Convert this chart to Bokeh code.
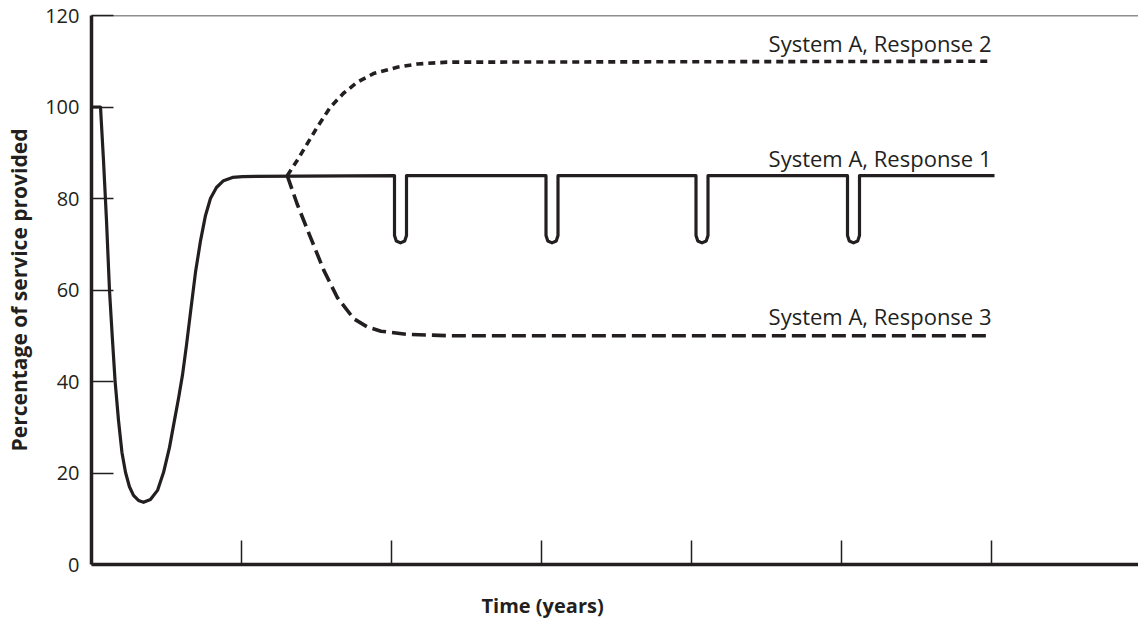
from bokeh.plotting import figure
from bokeh.models import Range1d, FixedTicker, Span, Title
from bokeh.core.properties import value
from bokeh.embed import file_html
from bokeh.resources import INLINE

INK = "#231f20"
FONT = "Open Sans"

# ---- data ----
# initial disruption and recovery of Response 1 (time in years, % of service)
trough_t = [0.0, 0.06, 0.08, 0.10, 0.12, 0.14, 0.157, 0.18, 0.203, 0.227,
            0.253, 0.28, 0.313, 0.347, 0.393, 0.44, 0.48, 0.52, 0.553, 0.58,
            0.607, 0.633, 0.66, 0.693, 0.727, 0.76, 0.793, 0.833, 0.88, 0.94,
            1.007]
trough_v = [100, 100, 88.3, 75.2, 59.9, 49.0, 40.2, 31.5, 24.5, 20.1,
            17.0, 15.1, 14.0, 13.6, 14.2, 16.2, 20.1, 25.6, 31.5, 36.3,
            41.5, 47.9, 55.1, 63.8, 70.8, 76.3, 80.0, 82.4, 83.9, 84.6,
            84.8]
r1_level = 85
dip_t = [2.06, 3.07, 4.07, 5.08]       # short service drops of Response 1
dip_low = 70.3
dip_half = 0.04
end_t = 6.02

r2_t = [1.305, 1.371, 1.505, 1.593, 1.68, 1.771, 1.88, 2.038, 2.171, 2.371, 6.0]
r2_v = [85, 88.3, 95.6, 100.0, 103.0, 105.4, 107.3, 108.7, 109.4, 109.8, 110]

r3_t = [1.305, 1.371, 1.46, 1.549, 1.638, 1.749, 1.84, 1.93, 2.1, 2.4, 6.0]
r3_v = [85, 78.8, 71.5, 64.3, 58.4, 53.7, 51.9, 51.0, 50.3, 50.0, 50]

label_text = ["System A, Response 1", "System A, Response 2", "System A, Response 3"]
label_t = [6.0, 6.0, 6.0]
label_v = [88.9, 113.9, 54.3]

x_ticks = [1, 2, 3, 4, 5, 6]
y_ticks = [0, 20, 40, 60, 80, 100, 120]

# ---- build Response 1 polyline ----
r1_t = list(trough_t)
r1_v = list(trough_v)
for c in dip_t:
    r1_t += [c - dip_half, c - dip_half, c - 0.7 * dip_half, c,
             c + 0.7 * dip_half, c + dip_half, c + dip_half]
    r1_v += [r1_level, dip_low + 1.6, dip_low + 0.4, dip_low,
             dip_low + 0.4, dip_low + 1.6, r1_level]
r1_t.append(end_t)
r1_v.append(r1_level)

p = figure(width=1138, height=623, x_range=Range1d(0, 6.98), y_range=Range1d(0, 120),
           output_backend="svg", toolbar_location=None,
           min_border_left=91, min_border_right=0, min_border_top=15, min_border_bottom=59)
p.outline_line_color = None
p.grid.visible = False
p.background_fill_color = "white"
p.border_fill_color = "white"

xa = p.xaxis[0]
xa.ticker = FixedTicker(ticks=x_ticks)
xa.major_label_overrides = {t: "" for t in x_ticks}
xa.major_label_standoff = 0
xa.major_tick_in = 24
xa.major_tick_out = 0
xa.minor_tick_line_color = None
xa.axis_line_width = 3.5
xa.axis_line_color = INK
xa.major_tick_line_width = 1.5
xa.major_tick_line_color = INK

# x-axis title, placed under the ticked span (0..6) rather than the whole frame
title_kw = dict(text="Time (years)", align="left", offset=390,
                text_font=FONT, text_font_size="20px", text_font_style="bold",
                text_color=INK, standoff=0)
if "padding" in Title.properties():
    title_kw["padding"] = (0, 0, 25, 0)   # left, right, top, bottom
p.add_layout(Title(**title_kw), "below")

ya = p.yaxis[0]
ya.ticker = FixedTicker(ticks=y_ticks)
ya.major_tick_in = 22
ya.major_tick_out = 0
ya.minor_tick_line_color = None
ya.axis_line_width = 3.5
ya.axis_line_color = INK
ya.major_tick_line_width = 1.5
ya.major_tick_line_color = INK
ya.major_label_text_font = FONT
ya.major_label_text_font_size = "20px"
ya.major_label_text_color = INK
ya.major_label_standoff = 12
ya.axis_label = "Percentage of service provided"
ya.axis_label_text_font = FONT
ya.axis_label_text_font_size = "21px"
ya.axis_label_text_font_style = "bold"
ya.axis_label_text_color = INK
ya.axis_label_standoff = 9

p.add_layout(Span(location=120, dimension="width", line_color=INK, line_width=1.5))

p.line(r1_t, r1_v, line_color=INK, line_width=3.2, line_join="round")
p.line(r2_t, r2_v, line_color=INK, line_width=3.6, line_dash="7 5")
p.line(r3_t, r3_v, line_color=INK, line_width=3.6, line_dash="14 6")

p.text(x=label_t, y=label_v, text=label_text, text_align="right",
       text_baseline="alphabetic", text_font=value(FONT), text_font_size="22px",
       text_color=INK)

open("out.html", "w").write(file_html(p, INLINE))
